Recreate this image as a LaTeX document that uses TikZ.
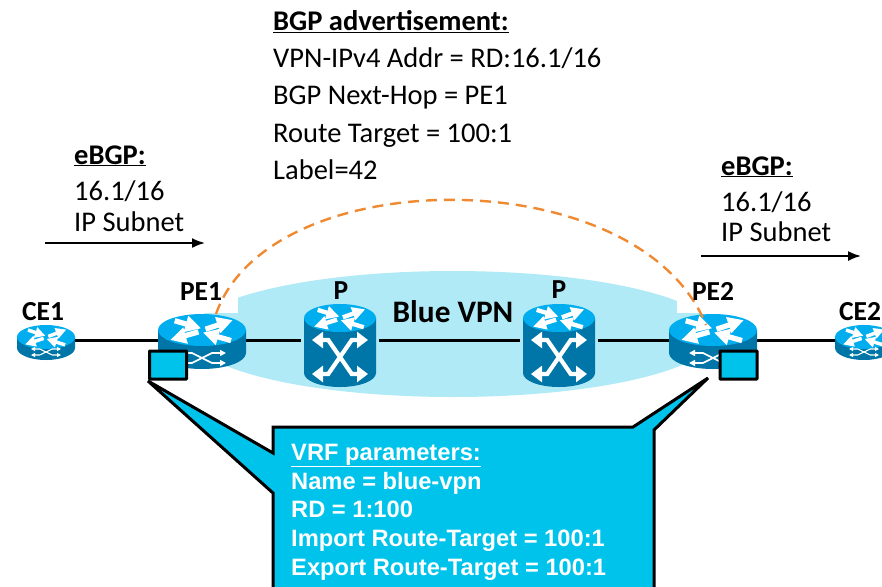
\documentclass[tikz,border=0pt]{standalone}
\usepackage{fontspec}
\setmainfont{Carlito}
\newfontfamily\calloutfont{Liberation Sans}
\usetikzlibrary{arrows.meta}
\definecolor{vpnblue}{HTML}{B0EAF6}
\definecolor{calloutblue}{HTML}{00C3EB}
\definecolor{routertop}{HTML}{00AEEF}
\definecolor{routerbody}{HTML}{0076A8}
\definecolor{bgporange}{HTML}{F08A32}
\tikzset{
  txt/.style={anchor=base west,inner sep=0pt,font=\fontsize{28.5}{28.5}\selectfont},
  txtb/.style={anchor=base west,inner sep=0pt,font=\fontsize{28.5}{28.5}\selectfont\bfseries},
  hd/.style={anchor=base,inner sep=0pt,font=\fontsize{27.5}{27.5}\selectfont\bfseries},
  calltxt/.style={anchor=base west,inner sep=0pt,text=white,font=\fontsize{23.7}{23.7}\selectfont\calloutfont\bfseries},
  hook/.style={inner sep=0pt,minimum height=10pt},
  link/.style={line width=3pt,black},
  flow/.style={line width=1.8pt,black,-{Latex[length=13pt,width=10pt]}},
  portbox/.style={fill=calloutblue,draw=black,line width=3pt,rounded corners=0.5pt},
  bgpcurve/.style={draw=bgporange,line width=2.4pt,dash pattern=on 11pt off 7pt}
}
% x y rx ry h : cylinder with top-face arrows
\newcommand{\cyl}[5]{%
  \fill[routerbody] (#1-#3,#2) -- (#1-#3,#2+#5) arc[start angle=180,end angle=0,x radius=#3,y radius=#4] -- (#1+#3,#2) -- cycle;
  \fill[routertop] (#1,#2) ellipse[x radius=#3,y radius=#4];
  \begin{scope}[shift={(#1,#2)},xscale=#3,yscale=#4,white]
    \pgfmathsetmacro{\lw}{#3*0.12}
    \pgfmathsetmacro{\tl}{#3*0.36}
    \pgfmathsetmacro{\tw}{#3*0.36}
    \tikzset{rarr/.style={line width=\lw pt,-{Triangle[length=\tl pt,width=\tw pt]}}}
    \draw[rarr] (-0.62,-0.58) -- (-0.02,-0.10);
    \draw[rarr] (0.08,-0.05) -- (0.70,-0.62);
    \draw[rarr] (-0.08,0.12) -- (-0.72,0.62);
    \draw[rarr] (0.66,0.66) -- (0.02,0.16);
  \end{scope}}
% x y halfwidth halfheight linewidth tiplength tipwidth : crossing arrows on the body
\newcommand{\crossx}[7]{%
  \begin{scope}[white,line width=#5 pt,{Triangle[length=#6pt,width=#7pt]}-{Triangle[length=#6pt,width=#7pt]}]
    \draw (#1-#3,#2-#4) -- (#1-#3*0.42,#2-#4) -- (#1+#3*0.42,#2+#4) -- (#1+#3,#2+#4);
    \draw (#1-#3,#2+#4) -- (#1-#3*0.42,#2+#4) -- (#1+#3*0.42,#2-#4) -- (#1+#3,#2-#4);
  \end{scope}}
\begin{document}
\begin{tikzpicture}[x=1pt,y=-1pt]
\path[use as bounding box,clip] (0,0) rectangle (882,586);
\fill[white] (0,0) rectangle (882,586);
% blue VPN cloud with white label patches
\fill[vpnblue] (453,334) ellipse[x radius=263,y radius=63];
\fill[white] (180,260) rectangle (238,313);
\fill[white] (677,260) rectangle (730,313);
% anchor nodes
\node[hook,minimum width=58pt] (ce1) at (46,340.5) {};
\node[hook,minimum width=88pt] (pe1) at (202,340.5) {};
\node[hook,minimum width=77pt] (p1)  at (340,340.5) {};
\node[hook,minimum width=77pt] (p2)  at (559,340.5) {};
\node[hook,minimum width=88pt] (pe2) at (713,340.5) {};
\node[hook,minimum width=58pt] (ce2) at (864,340.5) {};
\draw[link] (ce1.east) -- (pe1.west);
\draw[link] (pe1.east) -- (p1.west);
\draw[link] (p1.east) -- (p2.west);
\draw[link] (p2.east) -- (pe2.west);
\draw[link] (pe2.east) -- (ce2.west);
% routers
\cyl{46}{337}{29}{12}{11}
\crossx{46}{352}{15}{3}{1.1}{4}{4}
\cyl{202}{330}{44}{16}{23}
\crossx{202}{358}{24}{5}{1.7}{6}{6}
\cyl{713}{330}{44}{16}{23}
\crossx{713}{358}{24}{5}{1.7}{6}{6}
\cyl{864}{337}{29}{12}{11}
\crossx{864}{352}{15}{3}{1.1}{4}{4}
\cyl{340}{318}{36}{14}{55}
\crossx{340}{357}{28}{17}{4.2}{11}{16}
\cyl{559}{318}{36}{14}{55}
\crossx{559}{357}{28}{17}{4.2}{11}{16}
% BGP session
\coordinate (bgpa) at (216,314);
\coordinate (bgpb) at (706,325);
\draw[bgpcurve] (bgpa) .. controls (270,160) and (640,160) .. (bgpb);
% callout
\node[portbox,minimum width=37pt,minimum height=28pt,inner sep=0pt] (portl) at (168,365) {};
\node[portbox,minimum width=37pt,minimum height=28pt,inner sep=0pt] (portr) at (738.5,365) {};
\draw[fill=calloutblue,line width=3pt,miter limit=4] (273,427) -- (633,427) -- (708,378) -- (654,430) -- (654,600) -- (273,600) -- (273,493) -- (148,381) -- (273,453) -- cycle;
\node[calltxt] (c1) at (291,460) {\underline{VRF parameters:}};
\node[calltxt] (c2) at (291,489) {Name = blue-vpn};
\node[calltxt] (c3) at (291,517) {RD = 1:100};
\node[calltxt] (c4) at (291,546) {Import Route-Target = 100:1};
\node[calltxt] (c5) at (291,575) {Export Route-Target = 100:1};
% labels
\node[hd] (lce1) at (43,320) {CE1};
\node[hd] (lpe1) at (201,300) {PE1};
\node[hd] (lp1) at (341,299) {P};
\node[hd,font=\fontsize{31.3}{31.3}\selectfont\bfseries] (lvpn) at (453,322) {Blue VPN};
\node[hd] (lp2) at (559,298) {P};
\node[hd] (lpe2) at (713,300) {PE2};
\node[hd] (lce2) at (860,320) {CE2};
% BGP advertisement
\node[txtb] (a0) at (273,31) {\underline{BGP advertisement:}};
\node[txt] (a1) at (273,67) {VPN-IPv4 Addr = RD:16.1/16};
\node[txt] (a2) at (273,104) {BGP Next-Hop = PE1};
\node[txt] (a3) at (273,142) {Route Target = 100:1};
\node[txt] (a4) at (273,179) {Label=42};
% eBGP left
\node[txtb] (l0) at (74,164) {\underline{eBGP:}};
\node[txt] (l1) at (74,200) {16.1/16};
\node[txt] (l2) at (74,231) {IP Subnet};
\coordinate (fl1) at (45,243);
\coordinate (fl2) at (205,243);
\draw[flow] (fl1) -- (fl2);
% eBGP right
\node[txtb] (r0) at (721,175) {\underline{eBGP:}};
\node[txt] (r1) at (721,211) {16.1/16};
\node[txt] (r2) at (721,241) {IP Subnet};
\coordinate (fr1) at (701,256);
\coordinate (fr2) at (861,256);
\draw[flow] (fr1) -- (fr2);
\end{tikzpicture}
\end{document}
